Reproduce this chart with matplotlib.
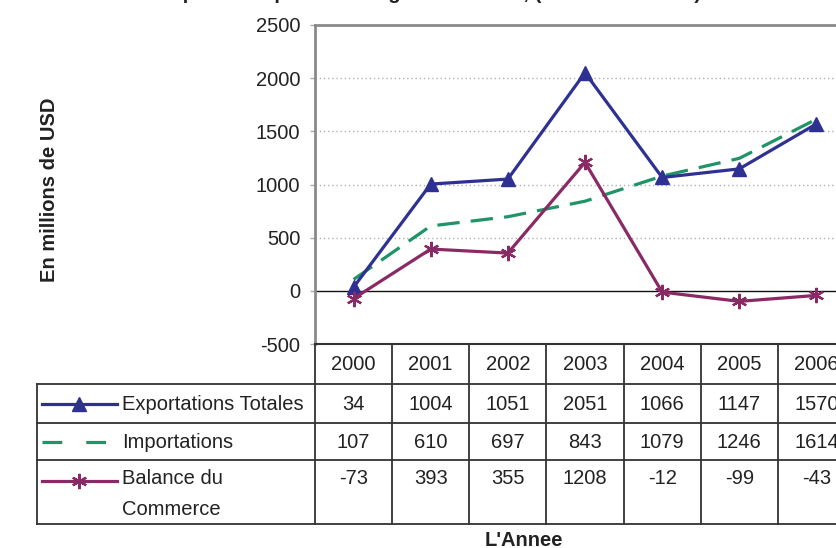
import matplotlib
matplotlib.use("Agg")
import matplotlib.pyplot as plt
from matplotlib.lines import Line2D
from matplotlib.transforms import blended_transform_factory

# ---- data ----
years = ["2000", "2001", "2002", "2003", "2004", "2005", "2006"]
exportations = [34, 1004, 1051, 2051, 1066, 1147, 1570]
importations = [107, 610, 697, 843, 1079, 1246, 1614]
balance = [-73, 393, 355, 1208, -12, -99, -43]
series_labels = ["Exportations Totales", "Importations", "Balance du\nCommerce"]
yticks = [-500, 0, 500, 1000, 1500, 2000, 2500]

C_EXP = "#2e3192"
C_IMP = "#1f9466"
C_BAL = "#8a2a65"
TXT = "#222222"
FS = 14.5

plt.rcParams["font.family"] = ["Liberation Sans", "DejaVu Sans"]
plt.rcParams["axes.unicode_minus"] = False

W, H = 836, 548
fig = plt.figure(figsize=(W / 100, H / 100), dpi=100)

def fx(px):
    return px / W

def fy(py):
    return 1 - py / H

# axes: left 315px, right 855px (beyond figure), top 25px, bottom 344px
ax = fig.add_axes([fx(315), fy(344), fx(855) - fx(315), (344 - 25) / H])
x = list(range(len(years)))
ax.set_xlim(-0.5, len(years) - 0.5)
ax.set_ylim(-500, 2500)
ax.set_yticks(yticks)
ax.set_xticks([])

for v in [500, 1000, 1500, 2000]:
    ax.axhline(v, color="#b0b0b0", lw=1, ls=(0, (1, 2)), zorder=1)
ax.axhline(0, color="#111111", lw=1, zorder=1)

ax.plot(x, importations, color=C_IMP, lw=2.3, dashes=(7, 3.5), zorder=3)
ax.plot(x, exportations, color=C_EXP, lw=2.3, marker="^", ms=10, zorder=4)
ax.plot(x, balance, color=C_BAL, lw=2.3, marker=(6, 2, 0), ms=11, mew=1.6, zorder=4)

for s in ["left", "top"]:
    ax.spines[s].set_color("#8a8a8a")
    ax.spines[s].set_linewidth(2)
ax.spines["right"].set_visible(False)
ax.spines["bottom"].set_color("#333333")
ax.spines["bottom"].set_linewidth(1.5)
ax.tick_params(axis="y", length=3.6, color="#aaaaaa", width=1, pad=7,
               labelsize=FS, labelcolor=TXT)

fig.text(fx(50), fy(190), "En millions de USD", rotation=90, ha="center", va="center",
         fontsize=FS, fontweight="bold", color=TXT)

# ---- data table below the axes ----
bt = blended_transform_factory(ax.transData, fig.transFigure)
LC = "#333333"
row_lines = [384, 423, 460, 524]
for py in row_lines:
    fig.add_artist(Line2D([fx(37), fx(860)], [fy(py), fy(py)], color=LC, lw=1.3,
                          transform=fig.transFigure))
fig.add_artist(Line2D([fx(37), fx(37)], [fy(384), fy(524)], color=LC, lw=1.3,
                      transform=fig.transFigure))
for i in range(len(years) + 1):
    fig.add_artist(Line2D([i - 0.5, i - 0.5], [fy(344), fy(524)], color=LC, lw=1.3,
                          transform=bt, clip_on=False))

for i, yr in enumerate(years):
    fig.text(i, fy(364), yr, transform=bt, ha="center", va="center", fontsize=FS, color=TXT)
    fig.text(i, fy(404), str(exportations[i]), transform=bt, ha="center", va="center",
             fontsize=FS, color=TXT)
    fig.text(i, fy(442), str(importations[i]), transform=bt, ha="center", va="center",
             fontsize=FS, color=TXT)
    fig.text(i, fy(479), str(balance[i]), transform=bt, ha="center", va="center",
             fontsize=FS, color=TXT)

# legend swatches and row labels
fig.add_artist(Line2D([fx(42), fx(117)], [fy(404), fy(404)], color=C_EXP, lw=2.3,
                      transform=fig.transFigure))
fig.add_artist(Line2D([fx(79)], [fy(404)], color=C_EXP, marker="^", ms=10, ls="none",
                      transform=fig.transFigure))
fig.add_artist(Line2D([fx(42), fx(117)], [fy(442), fy(442)], color=C_IMP, lw=2.3,
                      dashes=(6.2, 7.5), transform=fig.transFigure))
fig.add_artist(Line2D([fx(42), fx(117)], [fy(481), fy(481)], color=C_BAL, lw=2.3,
                      transform=fig.transFigure))
fig.add_artist(Line2D([fx(79)], [fy(481)], color=C_BAL, marker=(6, 2, 0), ms=11, mew=1.6,
                      ls="none", transform=fig.transFigure))

fig.text(fx(122), fy(404), series_labels[0], ha="left", va="center", fontsize=FS, color=TXT)
fig.text(fx(122), fy(442), series_labels[1], ha="left", va="center", fontsize=FS, color=TXT)
fig.text(fx(122), fy(494), series_labels[2], ha="left", va="center", fontsize=FS, color=TXT,
         linespacing=1.75)

fig.text(fx(524), fy(540), "L'Annee", ha="center", va="center", fontsize=FS,
         fontweight="bold", color=TXT)

# title (mostly cut off at the top of the image)
fig.text(fx(430), fy(-1), "Export et Import du Congo-Brazzaville, (en millions USD)",
         ha="center", va="baseline", fontsize=FS, fontweight="bold", color=TXT)

fig.savefig("out.png", dpi=100)
